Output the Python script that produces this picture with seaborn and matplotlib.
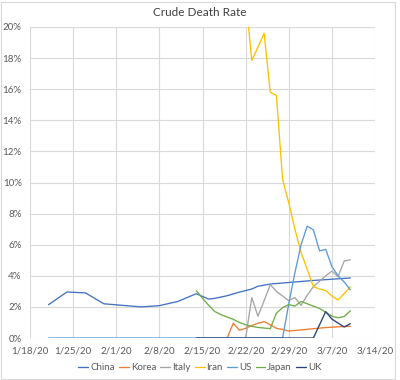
import pandas as pd
import numpy as np
import seaborn as sns
import matplotlib
matplotlib.use('Agg')
import matplotlib.pyplot as plt
from matplotlib.ticker import PercentFormatter
from matplotlib.patches import Rectangle

###----- Data (day offsets from 1/18/20, crude death rate in %) -----###
start_date = pd.Timestamp('2020-01-18')

china_days = [3, 6, 9, 12, 15, 18, 21, 24, 27, 29, 30, 32, 34, 36, 37, 39, 42, 46, 52]
china_vals = [2.14, 2.96, 2.9, 2.2, 2.1, 2.0, 2.08, 2.35, 2.85, 2.5, 2.55, 2.72, 2.95, 3.15, 3.33, 3.47, 3.57, 3.7, 3.86]

korea_days = [32, 33, 34, 35, 36, 37, 38, 39, 40, 41, 42, 44, 46, 48, 50, 52]
korea_vals = [0, 0.95, 0.5, 0.62, 0.8, 0.95, 1.05, 0.85, 0.62, 0.55, 0.45, 0.52, 0.6, 0.67, 0.72, 0.75]

italy_days = [35, 36, 37, 38, 39, 40, 41, 42, 43, 44, 45, 46, 47, 48, 49, 50, 51, 52]
italy_vals = [0, 2.6, 1.4, 2.4, 3.43, 3.0, 2.7, 2.4, 2.6, 2.1, 2.75, 3.3, 3.65, 4.0, 4.3, 3.95, 4.95, 5.03]

iran_days = [35, 36, 37, 38, 39, 40, 41, 42, 43, 44, 45, 46, 47, 48, 49, 50, 51, 52]
iran_vals = [22.0, 17.85, 18.7, 19.6, 15.8, 15.6, 10.2, 8.7, 7.0, 5.5, 4.4, 3.3, 3.15, 3.05, 2.7, 2.45, 2.85, 3.3]

us_days = [3, 41, 42, 43, 44, 45, 46, 47, 48, 49, 50, 51, 52]
us_vals = [0, 0, 2.2, 4.2, 6.0, 7.2, 6.95, 5.6, 5.7, 4.6, 4.0, 3.6, 3.1]

japan_days = [27, 28, 29, 30, 31, 32, 33, 34, 35, 36, 37, 38, 39, 40, 41, 42, 43, 44, 45, 46, 47, 48, 49, 50, 51, 52]
japan_vals = [3.04, 2.55, 2.1, 1.7, 1.5, 1.35, 1.2, 1.0, 0.85, 0.75, 0.68, 0.64, 0.6, 1.6, 1.95, 2.15, 2.05, 2.35, 2.2, 2.05, 1.9, 1.65, 1.4, 1.3, 1.38, 1.75]

uk_days = [27, 46, 47, 48, 49, 50, 51, 52]
uk_vals = [0, 0, 0.85, 1.7, 1.22, 0.96, 0.71, 0.92]

countries = ['China', 'Korea', 'Italy', 'Iran', 'US', 'Japan', 'UK']
colors = ['#4472C4', '#ED7D31', '#A5A5A5', '#FFC000', '#5B9BD5', '#70AD47', '#264478']

series = {'China': (china_days, china_vals), 'Korea': (korea_days, korea_vals),
          'Italy': (italy_days, italy_vals), 'Iran': (iran_days, iran_vals),
          'US': (us_days, us_vals), 'Japan': (japan_days, japan_vals),
          'UK': (uk_days, uk_vals)}

frames = []
for name in countries:
    d, v = series[name]
    frames.append(pd.DataFrame({'date': start_date + pd.to_timedelta(d, unit='D'),
                                'rate': v, 'country': name}))
df = pd.concat(frames, ignore_index=True)

###----- Plot -----###
sns.set_style('white')
plt.rcParams['font.family'] = ['Lato', 'DejaVu Sans']
text_col = '#595959'
grid_col = '#D9D9D9'

fig = plt.figure(figsize=(4, 3.8), dpi=100)
ax = fig.add_axes([30/400, 1-338/380, (375-30)/400, (338-27)/380])

sns.lineplot(data=df, x='date', y='rate', hue='country', hue_order=countries,
             palette=colors, linewidth=0.95, ax=ax, legend=True, sort=True)

ax.set_xlim(start_date, pd.Timestamp('2020-03-14'))
ax.set_ylim(0, 20)
ax.set_yticks(np.arange(0, 21, 2))
ax.yaxis.set_major_formatter(PercentFormatter(100, decimals=0))
xticks = pd.date_range('2020-01-18', '2020-03-14', freq='7D')
ax.set_xticks(xticks)
ax.set_xticklabels([f'{d.month}/{d.day}/{d.year % 100}' for d in xticks])
ax.grid(True, color=grid_col, linewidth=0.8)
ax.set_axisbelow(True)
for s in ax.spines.values():
    s.set_visible(False)
ax.tick_params(length=0, labelsize=7, colors=text_col, pad=6)
ax.set_xlabel('')
ax.set_ylabel('')

handles, labels = ax.get_legend_handles_labels()
ax.legend(handles, labels, loc='center', bbox_to_anchor=(0.5, 1-368/380), bbox_transform=fig.transFigure,
          ncol=7, frameon=False, fontsize=7, labelcolor=text_col, handlelength=1.0,
          handletextpad=0.2, columnspacing=0.45)

fig.text(0.5, 1-13/380, 'Crude Death Rate', ha='center', va='center', fontsize=8.5, color='#404040')
fig.patches.append(Rectangle((0.002, 0.002), 0.985, 0.994, transform=fig.transFigure,
                             fill=False, edgecolor=grid_col, linewidth=0.8))

plt.savefig('out.png', dpi=100)
